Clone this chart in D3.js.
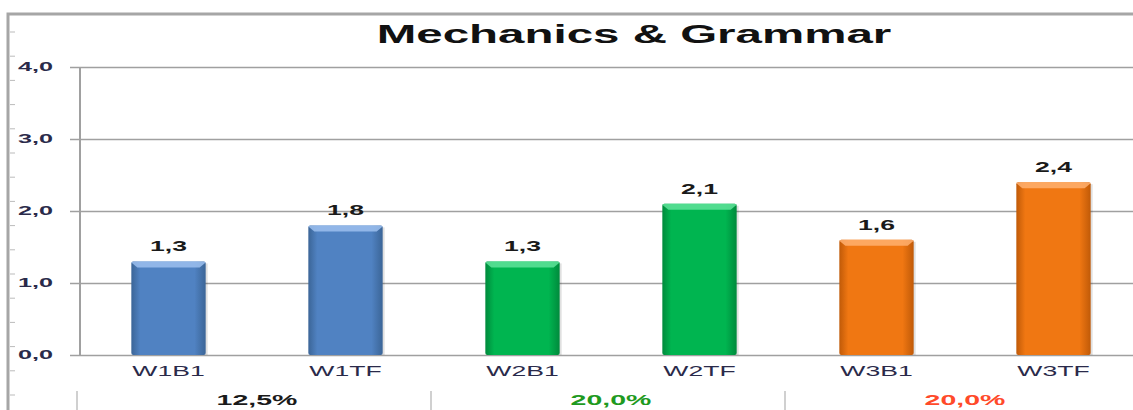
<!DOCTYPE html>
<html>
<head>
<meta charset="utf-8">
<script src="https://cdn.jsdelivr.net/npm/d3@7"></script>
<style>
  body { margin: 0; background: #fff; }
  svg { display: block; font-family: "Liberation Sans", Arial, sans-serif; }
</style>
</head>
<body>
<script>
// Data
const categories = ['W1B1', 'W1TF', 'W2B1', 'W2TF', 'W3B1', 'W3TF'];
const values = [1.3, 1.8, 1.3, 2.1, 1.6, 2.4];
const groups = ['W1', 'W1', 'W2', 'W2', 'W3', 'W3'];
const groupLabels = ['12,5%', '20,0%', '20,0%'];
const yTicks = [0, 1, 2, 3, 4];

const width = 1133, height = 410;
const margin = {left: 80, top: 67, bottom: 55};
const plotRight = 1142;
const stretch = 1.9;   // the text in the original is drawn wide

const groupColor = {W1: '#5082c2', W2: '#00b550', W3: '#f07712'};
const groupDark = {W1: '#3b6597', W2: '#008a3c', W3: '#c05a08'};
const groupLight = {W1: '#9cc0ee', W2: '#5fe39a', W3: '#ffb070'};
const labelColors = ['#1a1a1a', '#1f9a1f', '#ff4a2a'];

const fmt = d => d3.format('.1f')(d).replace('.', ',');

let svg = d3.select('body').append('svg')
    .attr('width', width)
    .attr('height', height);

// places a text at x,y and widens it
function wide(sel, x, y, s) {
    return sel.attr('transform', 'translate(' + x + ',' + y + ') scale(' + (s || stretch) + ',1)');
}

// Gradients for the bars
let defs = svg.append('defs');
Object.keys(groupColor).forEach(g => {
    let grad = defs.append('linearGradient')
        .attr('id', 'grad' + g)
        .attr('x1', 0).attr('x2', 1).attr('y1', 0).attr('y2', 0);
    grad.append('stop').attr('offset', '0%').attr('stop-color', groupDark[g]);
    grad.append('stop').attr('offset', '12%').attr('stop-color', groupColor[g]);
    grad.append('stop').attr('offset', '85%').attr('stop-color', groupColor[g]);
    grad.append('stop').attr('offset', '100%').attr('stop-color', groupDark[g]);
});

// Outer frame
svg.append('rect')
    .attr('x', 8).attr('y', 14)
    .attr('width', width + 20).attr('height', height + 20)
    .attr('fill', 'none')
    .attr('stroke', '#a6a6a6')
    .attr('stroke-width', 3);

// Little ruler ticks on the left frame
d3.range(32, height, 24.2).forEach(y => {
    svg.append('line')
        .attr('x1', 10).attr('x2', 15)
        .attr('y1', y).attr('y2', y)
        .attr('stroke', '#bbb');
});

// Scales
let x = d3.scaleBand()
    .domain(categories)
    .range([margin.left, plotRight])
    .paddingInner(0.58)
    .paddingOuter(0.29);

let y = d3.scaleLinear()
    .domain([0, 4])
    .range([height - margin.bottom, margin.top]);

// Gridlines and y axis
let yAxis = svg.append('g')
    .attr('transform', 'translate(' + margin.left + ',0)')
    .call(d3.axisLeft(y).tickValues(yTicks).tickSize(-(plotRight - margin.left)).tickPadding(27)
        .tickFormat(fmt));
yAxis.select('.domain').remove();
yAxis.selectAll('.tick line')
    .attr('x1', -10)
    .attr('stroke', '#a0a0a0')
    .attr('stroke-width', 1.5);
yAxis.selectAll('.tick text')
    .attr('font-size', 12)
    .attr('font-weight', 'bold')
    .attr('fill', '#2a2a4a')
    .attr('x', null)
    .attr('dy', '0.32em')
    .each(function() { wide(d3.select(this), -27, 0, 2.1); });

svg.append('line')
    .attr('x1', margin.left).attr('x2', margin.left)
    .attr('y1', y(4)).attr('y2', y(0))
    .attr('stroke', '#a0a0a0').attr('stroke-width', 2);

// Bars
let bars = svg.append('g').selectAll('g')
    .data(categories).enter()
    .append('g');

bars.append('rect')
    .attr('x', d => x(d) + 2)
    .attr('y', (d, i) => y(values[i]) + 2)
    .attr('width', x.bandwidth())
    .attr('height', (d, i) => y(0) - y(values[i]) - 2)
    .attr('fill', 'rgba(0,0,0,0.12)');

bars.append('rect')
    .attr('x', d => x(d))
    .attr('y', (d, i) => y(values[i]))
    .attr('width', x.bandwidth())
    .attr('height', (d, i) => y(0) - y(values[i]))
    .attr('rx', 2)
    .attr('fill', (d, i) => 'url(#grad' + groups[i] + ')');

// bevel on top of each bar
bars.append('path')
    .attr('d', (d, i) => {
        let x0 = x(d), x1 = x(d) + x.bandwidth(), t = y(values[i]);
        return 'M' + x0 + ',' + (t + 1) + 'Q' + x0 + ',' + t + ' ' + (x0 + 3) + ',' + t +
            'L' + (x1 - 3) + ',' + t + 'Q' + x1 + ',' + t + ' ' + x1 + ',' + (t + 1) +
            'L' + (x1 - 6) + ',' + (t + 6) + 'L' + (x0 + 6) + ',' + (t + 6) + 'Z';
    })
    .attr('fill', (d, i) => groupLight[groups[i]])
    .attr('opacity', 0.85);

// Value labels
bars.append('text')
    .attr('text-anchor', 'middle')
    .attr('font-size', 14)
    .attr('font-weight', 'bold')
    .attr('fill', '#1a1a1a')
    .text((d, i) => fmt(values[i]))
    .each(function(d, i) { wide(d3.select(this), x(d) + x.bandwidth() / 2, y(values[i]) - 10); });

// Category labels
svg.append('g').selectAll('text')
    .data(categories).enter()
    .append('text')
    .attr('text-anchor', 'middle')
    .attr('font-size', 14)
    .attr('fill', '#2a2a4a')
    .text(d => d)
    .each(function(d) { wide(d3.select(this), x(d) + x.bandwidth() / 2, y(0) + 21); });

// Group labels and separators
let step = x.step();
groupLabels.forEach((g, i) => {
    let left = x(categories[i * 2]) - (step - x.bandwidth()) / 2;
    svg.append('line')
        .attr('x1', left - 3).attr('x2', left - 3)
        .attr('y1', 391).attr('y2', 410)
        .attr('stroke', '#d0d0d0').attr('stroke-width', 2);
    wide(svg.append('text'), left + step, 405)
        .attr('text-anchor', 'middle')
        .attr('font-size', 15)
        .attr('font-weight', 'bold')
        .attr('fill', labelColors[i])
        .text(g);
});

// Title
wide(svg.append('text'), 634, 43)
    .attr('text-anchor', 'middle')
    .attr('font-size', 25)
    .attr('font-weight', 'bold')
    .attr('fill', '#111')
    .text('Mechanics & Grammar');
</script>
</body>
</html>
